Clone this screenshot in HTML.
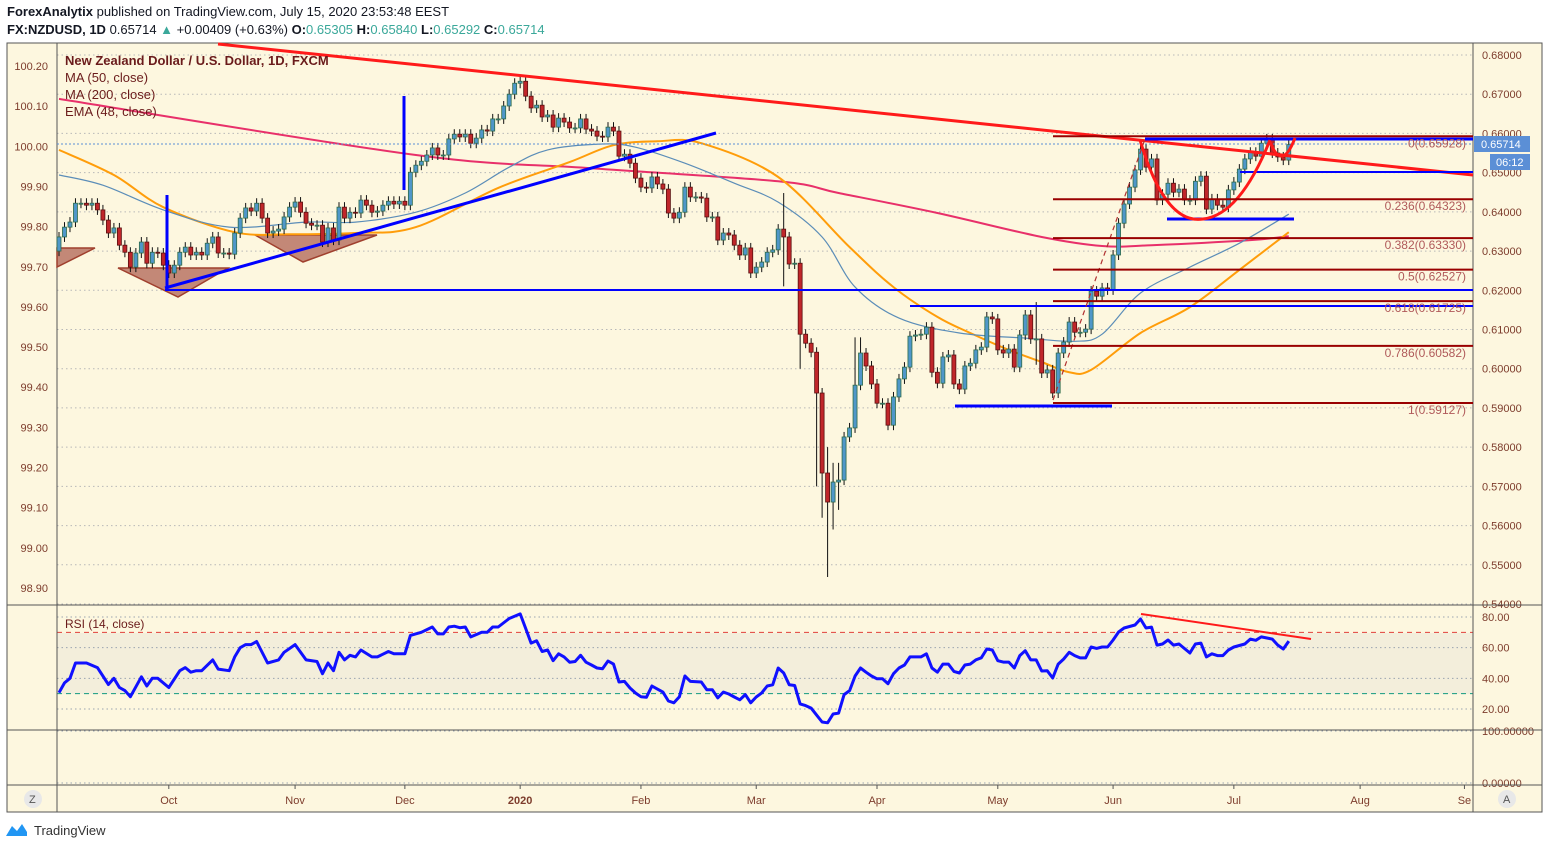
<!DOCTYPE html>
<html><head><meta charset="utf-8"><style>
body{margin:0;background:#fff;font-family:"Liberation Sans",sans-serif;}
#wrap{position:relative;width:1549px;height:849px;overflow:hidden;background:#fff;}
.hdr{position:absolute;left:7px;font-size:13px;color:#131722;white-space:nowrap;}
.t{color:#3aa89a;}
svg text{font-family:"Liberation Sans",sans-serif;}
</style></head><body>
<div id="wrap">
<div class="hdr" style="top:4px"><b>ForexAnalytix</b> published on TradingView.com, July 15, 2020 23:53:48 EEST</div>
<div class="hdr" style="top:22px"><b>FX:NZDUSD, 1D</b> 0.65714 <span class="t">▲</span> +0.00409 (+0.63%) <b>O:</b><span class="t">0.65305</span> <b>H:</b><span class="t">0.65840</span> <b>L:</b><span class="t">0.65292</span> <b>C:</b><span class="t">0.65714</span></div>
<svg id="chart" width="1549" height="849" style="position:absolute;left:0;top:0">
<rect x="7" y="43" width="1535" height="769" fill="#fdf7df" stroke="#555" stroke-width="1"/>
<rect x="57" y="633" width="1416" height="61" fill="#f3eedb"/>
<g id="grid"></g>
<g id="axes"></g>
<g id="tri">
<polygon points="57,248 95,248 57,267" fill="#c38877" stroke="#a0402e" stroke-width="1.5"/>
<polygon points="118,268 228,268 178,297" fill="#c38877" stroke="#a0402e" stroke-width="1.5"/>
<polygon points="255,235 377,235 303,262" fill="#c38877" stroke="#a0402e" stroke-width="1.5"/>
</g>
<g id="mas"></g>
<g id="candles"></g>
<g id="draw">
<line x1="57" y1="144" x2="1473" y2="144" stroke="#5b8fd6" stroke-width="1" stroke-dasharray="2,2"/>
<line x1="218" y1="44" x2="1473" y2="175" stroke="#ff1a1a" stroke-width="3"/>
<line x1="165" y1="290" x2="1473" y2="290" stroke="#0000ff" stroke-width="2"/>
<line x1="910" y1="306" x2="1473" y2="306" stroke="#0000ff" stroke-width="2"/>
<line x1="955" y1="406" x2="1112" y2="406" stroke="#0000ff" stroke-width="3"/>
<line x1="1145" y1="139" x2="1473" y2="139" stroke="#0000ff" stroke-width="3"/>
<line x1="1240" y1="172" x2="1473" y2="172" stroke="#0000ff" stroke-width="2"/>
<line x1="1167" y1="219" x2="1294" y2="219" stroke="#0000ff" stroke-width="3"/>
<line x1="167" y1="195" x2="167" y2="290" stroke="#0000ff" stroke-width="3"/>
<line x1="404" y1="96" x2="404" y2="190" stroke="#0000ff" stroke-width="3"/>
<line x1="165" y1="288" x2="716" y2="133" stroke="#0000ff" stroke-width="3"/>
<line x1="1053" y1="400" x2="1145" y2="139" stroke="#b03030" stroke-width="1.2" stroke-dasharray="5,4"/>
<path d="M1140,140 Q1165,225 1203,219 Q1240,215 1270,140" fill="none" stroke="#ff1a1a" stroke-width="3"/>
<path d="M1270,142 Q1282,172 1295,138" fill="none" stroke="#ff1a1a" stroke-width="3"/>
</g>
<g id="fib"></g>
<g id="rsi"></g>
<line x1="1141" y1="614" x2="1311" y2="639" stroke="#ff1a1a" stroke-width="2"/>
<g fill="#6a1b1b" font-size="13">
<text x="65" y="65" font-weight="bold">New Zealand Dollar / U.S. Dollar, 1D, FXCM</text>
<text x="65" y="82">MA (50, close)</text>
<text x="65" y="99">MA (200, close)</text>
<text x="65" y="116">EMA (48, close)</text>
<text x="65" y="628" font-size="12">RSI (14, close)</text>
</g>
<rect x="1474" y="136" width="56" height="16" fill="#5b8fd6"/>
<text x="1481" y="148" font-size="11" fill="#fff">0.65714</text>
<rect x="1490" y="154" width="40" height="16" fill="#5b8fd6"/>
<text x="1496" y="166" font-size="11" fill="#fff">06:12</text>
<circle cx="33" cy="799" r="9" fill="#e8e8e8"/>
<text x="29" y="803" font-size="11" fill="#555">Z</text>
<circle cx="1507" cy="799" r="9" fill="#e8e8e8"/>
<text x="1503" y="803" font-size="11" fill="#555">A</text>
<g>
<path d="M6,836 L12,826 L17,831 L22,824 L27,832 L27,836 Z" fill="#2196f3"/>
<text x="34" y="835" font-size="13" fill="#333">TradingView</text>
</g>
</svg>
</div>
<script>
const closes=[0.6336,0.6361,0.6374,0.6422,0.6422,0.6417,0.6422,0.6405,0.6379,0.6346,0.6359,0.6315,0.6297,0.6259,0.6295,0.6323,0.6269,0.6297,0.6295,0.6264,0.6244,0.6264,0.6297,0.6310,0.6290,0.6297,0.6290,0.6320,0.6336,0.6295,0.6295,0.6292,0.6346,0.6384,0.6410,0.6402,0.6422,0.6384,0.6346,0.6351,0.6356,0.6387,0.6412,0.6425,0.6399,0.6371,0.6366,0.6366,0.6323,0.6359,0.6328,0.6412,0.6384,0.6399,0.6397,0.6430,0.6417,0.6399,0.6402,0.6417,0.6427,0.6420,0.6427,0.6417,0.6501,0.6519,
0.6529,0.6545,0.6563,0.6545,0.6545,0.6586,0.6598,0.6591,0.6598,0.6575,0.6588,0.6609,0.6606,0.6637,0.6637,0.6670,0.6700,0.6728,0.6733,0.6695,0.6665,0.6672,0.6642,0.6647,0.6616,0.6639,0.6629,0.6614,0.6614,0.6637,0.6611,0.6606,0.6593,0.6591,0.6616,0.6606,0.6542,0.6547,0.6524,0.6486,0.6463,0.6461,0.6489,0.6471,0.6458,0.6397,0.6384,0.6399,0.6463,0.6438,0.6438,0.6435,0.6387,0.6387,0.6328,0.6346,0.6341,0.6315,0.6290,0.6308,0.6244,0.6259,0.6272,0.6297,0.6303,0.6356,
0.6336,0.6267,0.6269,0.6088,0.6065,0.6042,0.5938,0.5734,0.5660,0.5711,0.5716,0.5826,0.5849,0.5958,0.6040,0.6007,0.5961,0.5912,0.5912,0.5856,0.5928,0.5974,0.6004,0.6083,0.6086,0.6088,0.6106,0.5991,0.5963,0.6030,0.6035,0.5961,0.5948,0.6007,0.6014,0.6048,0.6055,0.6132,0.6127,0.6048,0.6040,0.6050,0.6004,0.6086,0.6137,0.6076,0.6076,0.5989,0.5997,0.5938,0.6040,0.6068,0.6119,0.6093,0.6093,0.6101,0.6198,0.6185,
0.6206,0.6201,0.6290,0.6371,0.6420,0.6463,0.6507,0.6560,0.6514,0.6535,0.6430,0.6445,0.6473,0.6450,0.6458,0.6430,0.6430,0.6478,0.6491,0.6407,0.6433,0.6417,0.6412,0.6456,0.6476,0.6509,0.6535,0.6552,0.6542,0.6575,0.6586,0.6550,0.6540,0.6532,0.65714];
const firstOpen=0.6300;
const longWickBar=[132,135,138,139,140,141,142,145,146,178];
const longWickHigh=[0.6448,0.6110,0.5940,0.5850,0.5800,0.5760,0.5760,0.6080,0.6080,0.6170];
const longWickLow=[0.6210,0.6000,0.5700,0.5620,0.5469,0.5590,0.5640,0.5900,0.5950,0.6010];
const ma50Bar=[0,8,19,31,45,54,65,74,82,89,99,105,114,123,131,139,145,153,164,176,185,190,197,206,215,224];
const ma50Val=[0.6494,0.6468,0.6405,0.6361,0.6374,0.6374,0.6399,0.6448,0.6514,0.6558,0.6573,0.6565,0.6524,0.6473,0.6425,0.6336,0.6208,0.6129,0.6091,0.6078,0.6070,0.6088,0.6193,0.6259,0.6320,0.6394];
const ema48Bar=[0,10,19,32,42,54,65,80,93,101,109,117,131,144,152,160,166,173,179,184,188,197,206,215,224];
const ema48Val=[0.6558,0.6494,0.6412,0.6348,0.6343,0.6346,0.6361,0.6461,0.6527,0.6570,0.6580,0.6575,0.6489,0.6310,0.6208,0.6132,0.6091,0.6048,0.6017,0.5991,0.5997,0.6091,0.6157,0.6252,0.6348];
const ma200Bar=[0,65,96,131,142,160,179,190,199,217,224];
const ma200Val=[0.6688,0.6545,0.6512,0.6478,0.6448,0.6397,0.6336,0.6313,0.6315,0.6328,0.6338];
const rsiBar=[0,1,2,3,5,7,9,10,11,12,13,15,16,17,18,20,22,23,24,25,26,28,29,31,32,33,34,35,36,38,40,41,43,45,47,48,49,50,51,52,53,54,55,57,58,60,61,63,64,66,68,69,70,71,72,73,74,75,77,78,79,80,82,84,85,86,87,88,89,90,91,92,93,94,95,96,
97,98,99,100,101,102,103,104,105,106,107,108,109,110,111,112,113,114,115,117,118,119,120,121,122,123,124,125,126,127,128,129,130,131,132,133,134,135,136,137,138,139,140,141,142,143,144,145,146,147,148,149,150,151,152,153,154,155,156,157,158,159,160,161,162,163,164,165,166,167,168,169,170,171,172,173,174,175,
176,177,178,179,180,181,182,183,184,185,186,187,188,189,190,191,192,193,194,196,197,198,199,200,201,202,203,204,206,207,208,209,210,211,212,213,214,216,217,218,219,221,222,223,224];
const rsiVal=[30.6,37,40,50,50,47,36,40,34,32,28,41,35,40,40,34,45,47,44,45,45,52,46,45,54,60,62,62,64,50,52,57,62,52,51,43,50,45,57,52,55,54,58.5,54,54,57.5,56,56,68,70,73.5,69,69,73.5,74,73,73.5,67,70,70,73.5,73.5,79,82,72.5,63,64.5,57.5,58.5,51.5,56,54,50.5,51,55,50.5,
48.7,46.7,46.3,51.3,49.3,37.6,38,33.7,30.4,28,27.6,35,33,31,25.2,24,28,41.5,38,37.6,32.6,32.6,27.2,31,29.8,27.8,26,29.4,24,27.8,30.5,35,35.8,46.7,43.5,35.8,35.3,23.3,22.2,20.6,16,11.5,11,16.7,17.3,29.4,32,41.5,46.7,44,41.5,39.7,39.7,36.5,43,46.7,48.7,54,54,54,56,46.7,44,49.3,49.3,44.5,43.5,48.7,49.3,52,53.4,59.1,58.5,51.5,50.6,50.6,46.7,54.8,
58,52,52,44.8,45,40.2,49.3,52.6,57,54.8,53.3,53.3,60.4,59.5,60.4,60.4,65,70.2,72.8,74.8,78.7,72.8,73.4,61.7,62.4,65,61.7,62.4,56.5,62.4,63,54,56,54.8,54.8,58.5,60.4,62.4,65.6,64.8,67,65.6,61.7,59.1,64.3];
const priceTicks=[0.68,0.67,0.66,0.65,0.64,0.63,0.62,0.61,0.60,0.59,0.58,0.57,0.56,0.55,0.54];
const leftTicks=["100.20","100.10","100.00","99.90","99.80","99.70","99.60","99.50","99.40","99.30","99.20","99.10","99.00","98.90"];
const rsiTicks=[80,60,40,20];
const fibLevels=["0","0.236","0.382","0.5","0.618","0.786","1"];
const fibPrices=[0.65928,0.64323,0.63330,0.62527,0.61725,0.60582,0.59127];
const monthLabels=["Oct","Nov","Dec","2020","Feb","Mar","Apr","May","Jun","Jul","Aug","Se"];
const monthBars=[20,43,63,84,106,127,149,171,192,214,237,256];

const NS="http://www.w3.org/2000/svg";
const yP=p=>55+(0.68-p)*3921.4;
const yL=v=>66+(100.20-v)*401.5;
const xB=i=>59+i*5.49;
const yR=v=>617+(80-v)*1.533;
function mk(tag,attrs,parent){const e=document.createElementNS(NS,tag);for(const k in attrs)e.setAttribute(k,attrs[k]);parent.appendChild(e);return e;}
const grid=document.getElementById('grid'),axes=document.getElementById('axes');
const AX="#7d3c2c";
priceTicks.forEach(p=>{
  const l=mk('line',{x1:57,x2:1473,y1:yP(p),y2:yP(p),stroke:'#b8b8b8','stroke-dasharray':'1.5,3'},grid);
  
  
  const t=mk('text',{x:1482,y:yP(p)+4,'font-size':11,fill:AX},axes);t.textContent=p.toFixed(5);
  
  
});
leftTicks.forEach(s=>{
  const t=mk('text',{x:48,y:yL(parseFloat(s))+4,'font-size':11,fill:AX,'text-anchor':'end'},axes);t.textContent=s;
  
  
});
rsiTicks.forEach(v=>{
  const l=mk('line',{x1:57,x2:1473,y1:yR(v),y2:yR(v),stroke:'#9aa4b0','stroke-dasharray':'1.5,3'},grid);
  
  
  const t=mk('text',{x:1482,y:yR(v)+4,'font-size':11,fill:AX},axes);t.textContent=v.toFixed(2);
  
  
});
[[yR(70),'#e0403a'],[yR(30),'#139a80']].forEach(a=>{
  const l=mk('line',{x1:57,x2:1473,y1:a[0],y2:a[0],stroke:a[1],'stroke-dasharray':'5,4'},grid);
  
  
});
[[731,'100.00000'],[783,'0.00000']].forEach(a=>{
  const l=mk('line',{x1:57,x2:1473,y1:a[0],y2:a[0],stroke:'#9aa4b0','stroke-dasharray':'1.5,3'},grid);
  
  
  const t=mk('text',{x:1482,y:a[0]+4,'font-size':11,fill:AX},axes);t.textContent=a[1];
  
  
});
[[57,43,57,812],[1473,43,1473,812],[7,605,1542,605],[7,730,1542,730],[7,785,1542,785]].forEach(a=>{
  const l=mk('line',{x1:a[0],y1:a[1],x2:a[2],y2:a[3],stroke:'#555','stroke-width':1},axes);
  
  
});
monthLabels.forEach((m,i)=>{
  const x=xB(monthBars[i]);
  const tk=mk('line',{x1:x,x2:x,y1:785,y2:789,stroke:'#555'},axes);
  
  
  const t=mk('text',{x:x,y:804,'font-size':11,fill:AX,'text-anchor':'middle','font-weight':m==='2020'?'bold':'normal'},axes);t.textContent=m;
  
  
});
// smooth path through points (Catmull-Rom rendering)
function smoothPath(pts){
  let d='M'+pts[0][0].toFixed(1)+','+pts[0][1].toFixed(1);
  for(let i=0;i<pts.length-1;i++){
    const p0=pts[i-1]||pts[i],p1=pts[i],p2=pts[i+1],p3=pts[i+2]||p2;
    const c1=[p1[0]+(p2[0]-p0[0])/6,p1[1]+(p2[1]-p0[1])/6];
    const c2=[p2[0]-(p3[0]-p1[0])/6,p2[1]-(p3[1]-p1[1])/6];
    d+=' C'+c1[0].toFixed(1)+','+c1[1].toFixed(1)+' '+c2[0].toFixed(1)+','+c2[1].toFixed(1)+' '+p2[0].toFixed(1)+','+p2[1].toFixed(1);
  }
  return d;
}
const mas=document.getElementById('mas');
function line(bars,vals,color,w,name){
  const pts=bars.map((b,i)=>[xB(b),yP(vals[i])]);
  const p=mk('path',{d:smoothPath(pts),fill:'none',stroke:color,'stroke-width':w,'stroke-linejoin':'round'},mas);
  
  
}
line(ma200Bar,ma200Val,'#e8306a',2,'ma200-line');
line(ema48Bar,ema48Val,'#ff9d0a',2,'ema48-line');
line(ma50Bar,ma50Val,'#5b8db8',1.2,'ma50-line');
// candles
const cg=document.getElementById('candles');
closes.forEach((c,i)=>{
  const o=i?closes[i-1]:firstOpen;
  const x=xB(i),up=c>=o;
  const top=yP(Math.max(o,c)),bot=yP(Math.min(o,c));
  let wt=top-5,wb=bot+5;
  const k=longWickBar.indexOf(i);
  if(k>=0){wt=Math.min(wt,yP(longWickHigh[k]));wb=Math.max(wb,yP(longWickLow[k]));}
  const w=mk('line',{x1:x,x2:x,y1:wt,y2:wb,stroke:'#111','stroke-width':1},cg);
  
  
  const r=mk('rect',{x:x-2,y:top,width:4,height:Math.max(1,bot-top),fill:up?'#4f97c9':'#c0262a',stroke:up?'#2e6b4a':'#5a1010','stroke-width':0.8},cg);
  
  
});
// fib
const fg=document.getElementById('fib');
fibPrices.forEach((p,i)=>{
  const y=yP(p);
  const l=mk('line',{x1:1053,x2:1473,y1:y,y2:y,stroke:'#990000','stroke-width':2},fg);
  
  
  const t=mk('text',{x:1466,y:y+11,'font-size':12,fill:'#b05a5a','text-anchor':'end'},fg);
  t.textContent=fibLevels[i]+'('+p.toFixed(5)+')';
  
  
});
// rsi
const rg=document.getElementById('rsi');
const rd=rsiBar.map((b,i)=>(i?'L':'M')+xB(b).toFixed(1)+','+yR(rsiVal[i]).toFixed(1)).join(' ');
const rp=mk('path',{d:rd,fill:'none',stroke:'#1010ff','stroke-width':3,'stroke-linejoin':'round'},rg);


</script>
</body></html>
